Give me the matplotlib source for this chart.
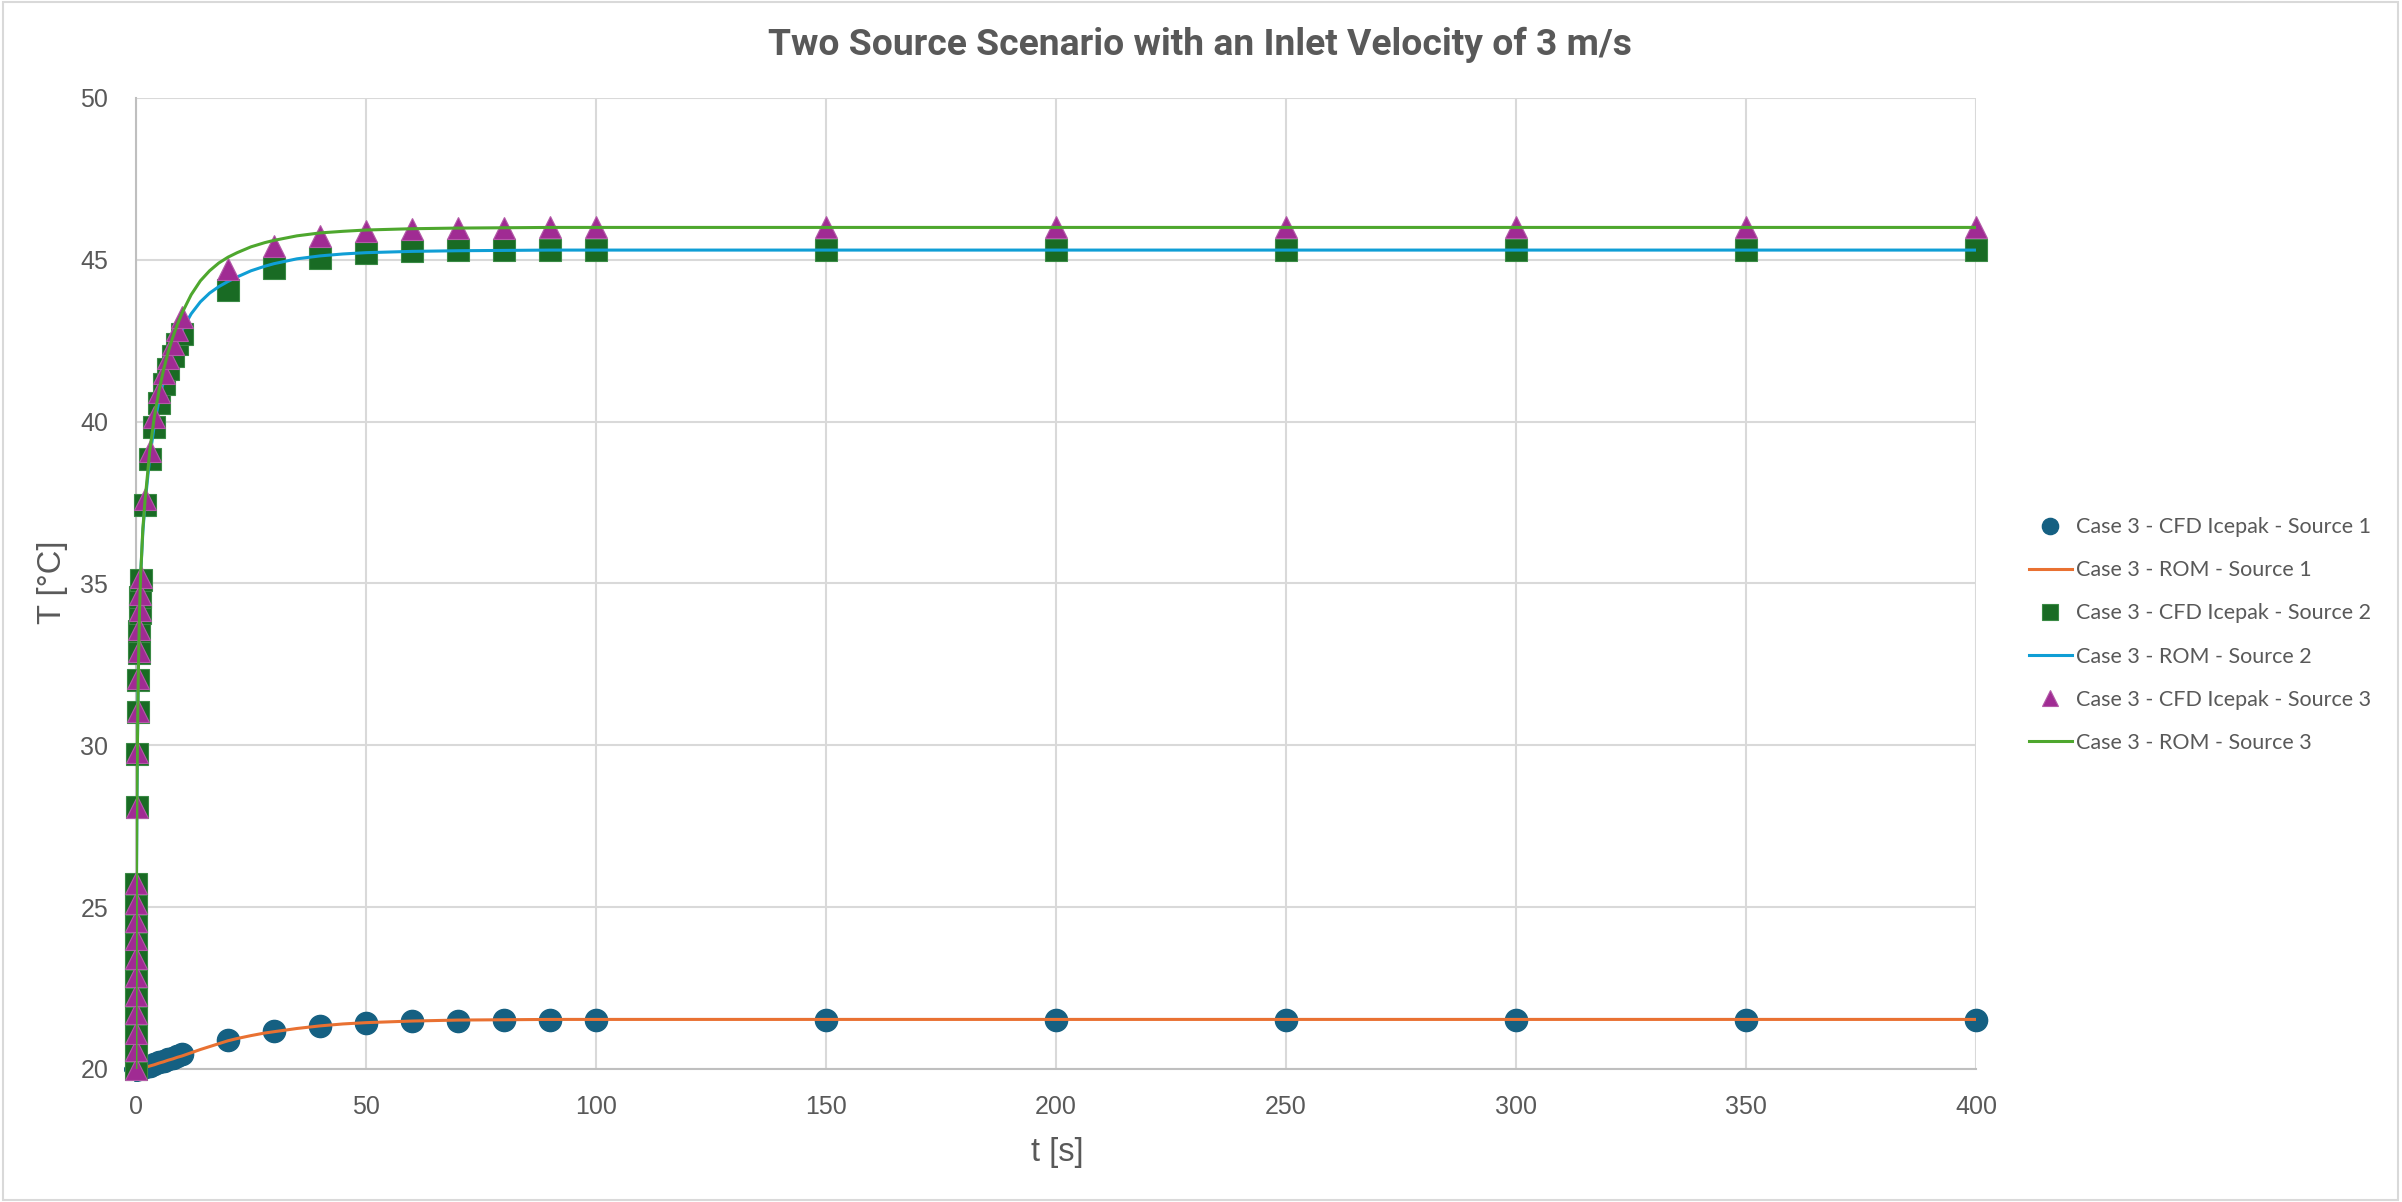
import matplotlib
matplotlib.use("agg")
import matplotlib.pyplot as plt
from matplotlib.patches import Rectangle

# CFD sample times [s]
cfd_t = [0, 0.01, 0.02, 0.03, 0.04, 0.05, 0.06, 0.07, 0.08, 0.09, 0.1,
         0.2, 0.3, 0.4, 0.5, 0.6, 0.7, 0.8, 0.9, 1.0,
         2, 3, 4, 5, 6, 7, 8, 9, 10,
         20, 30, 40, 50, 60, 70, 80, 90, 100,
         150, 200, 250, 300, 350, 400]

cfd_src1 = [20.0, 20.0, 20.0, 20.0, 20.0, 20.0, 20.0, 20.0, 20.0, 20.0, 20.0,
            20.0, 20.0, 20.01, 20.01, 20.01, 20.02, 20.02, 20.02, 20.03,
            20.06, 20.1, 20.15, 20.2, 20.25, 20.3, 20.35, 20.4, 20.45,
            20.9, 21.18, 21.34, 21.43, 21.48, 21.49, 21.52, 21.52, 21.52,
            21.52, 21.52, 21.52, 21.52, 21.52, 21.52]

cfd_src2 = [20.0, 20.55, 21.1, 21.7, 22.25, 22.85, 23.4, 24.0, 24.55, 25.1, 25.7,
            28.08, 29.74, 31.02, 32.03, 32.85, 33.52, 34.08, 34.58, 35.1,
            37.43, 38.85, 39.84, 40.58, 41.15, 41.62, 42.03, 42.39, 42.72,
            44.08, 44.74, 45.05, 45.21, 45.27, 45.29, 45.3, 45.3, 45.3,
            45.3, 45.3, 45.3, 45.3, 45.3, 45.3]

cfd_src3 = [20.0, 20.57, 21.12, 21.72, 22.28, 22.88, 23.43, 24.03, 24.58, 25.13, 25.73,
            28.1, 29.78, 31.07, 32.09, 32.92, 33.6, 34.17, 34.68, 35.2,
            37.62, 39.1, 40.15, 40.92, 41.5, 41.97, 42.4, 42.82, 43.22,
            44.72, 45.42, 45.73, 45.89, 45.95, 45.98, 45.99, 46.0, 46.0,
            46.0, 46.0, 46.0, 46.0, 46.0, 46.0]

# ROM output times [s]
rom_t = [0, 0.05, 0.1, 0.2, 0.3, 0.5, 0.75, 1, 1.5, 2, 3, 4, 5, 6, 7, 8, 9, 10,
         12, 14, 16, 18, 20, 22, 25, 28, 30, 35, 40, 45, 50, 60, 70, 80, 90, 100,
         150, 200, 250, 300, 350, 400]

rom_src1 = [20.0, 20.0, 20.0, 20.0, 20.0, 20.01, 20.01, 20.02, 20.03, 20.05, 20.09,
            20.13, 20.18, 20.22, 20.27, 20.31, 20.36, 20.4,
            20.5, 20.6, 20.69, 20.78, 20.87, 20.94, 21.03, 21.11, 21.15, 21.25, 21.33,
            21.39, 21.43, 21.48, 21.51, 21.52, 21.53, 21.53,
            21.53, 21.53, 21.53, 21.53, 21.53, 21.53]

rom_src2 = [20.0, 22.8, 25.4, 28.2, 29.8, 32.1, 34.0, 35.2, 36.6, 37.5, 38.9,
            39.9, 40.65, 41.25, 41.75, 42.15, 42.5, 42.82,
            43.33, 43.7, 43.97, 44.17, 44.33, 44.47, 44.66, 44.8, 44.88, 45.03, 45.12,
            45.18, 45.22, 45.26, 45.28, 45.29, 45.3, 45.3,
            45.3, 45.3, 45.3, 45.3, 45.3, 45.3]

rom_src3 = [20.0, 22.8, 25.4, 28.2, 29.8, 32.1, 34.0, 35.2, 36.7, 37.6, 39.1,
            40.15, 40.95, 41.6, 42.15, 42.6, 43.0, 43.35,
            43.92, 44.35, 44.66, 44.9, 45.08, 45.22, 45.4, 45.53, 45.6, 45.74, 45.83,
            45.88, 45.92, 45.96, 45.98, 45.99, 46.0, 46.0,
            46.0, 46.0, 46.0, 46.0, 46.0, 46.0]

labels = ["Case 3 - CFD Icepak - Source 1", "Case 3 - ROM - Source 1",
          "Case 3 - CFD Icepak - Source 2", "Case 3 - ROM - Source 2",
          "Case 3 - CFD Icepak - Source 3", "Case 3 - ROM - Source 3"]

gray = "#595959"
tick_font = "Liberation Sans"

fig = plt.figure(figsize=(24.02, 12.02), dpi=100)
ax = fig.add_axes([0.0566, 0.1107, 0.7661, 0.8078])

ms = 16
ax.plot(cfd_t, cfd_src1, ls="none", marker="o", ms=ms, color="#156082",
        mec="#156082", clip_on=False, zorder=3, label=labels[0])
ax.plot(rom_t, rom_src1, color="#E97132", lw=2.2, zorder=4, label=labels[1])
ax.plot(cfd_t, cfd_src2, ls="none", marker="s", ms=ms, color="#196B24",
        mec="#3a8a45", mew=0.8, clip_on=False, zorder=5, label=labels[2])
ax.plot(rom_t, rom_src2, color="#0F9ED5", lw=2.2, zorder=6, label=labels[3])
ax.plot(cfd_t, cfd_src3, ls="none", marker="^", ms=ms, color="#A02B93",
        mec="#b35aa8", mew=0.8, clip_on=False, zorder=7, label=labels[4])
ax.plot(rom_t, rom_src3, color="#4EA72E", lw=2.2, zorder=8, label=labels[5])

ax.set_xlim(0, 400)
ax.set_ylim(20, 50)
ax.set_xticks(range(0, 401, 50))
ax.set_yticks(range(20, 51, 5))
ax.grid(True, color="#d9d9d9", lw=1.5)
ax.set_axisbelow(True)
for s in ["top", "right"]:
    ax.spines[s].set_visible(False)
for s in ["left", "bottom"]:
    ax.spines[s].set_color("#bfbfbf")
    ax.spines[s].set_linewidth(1.5)
ax.tick_params(length=0, labelsize=18, labelcolor=gray)
ax.tick_params(axis="y", pad=20)
ax.tick_params(axis="x", pad=19)
for lab in ax.get_xticklabels() + ax.get_yticklabels():
    lab.set_family(tick_font)

ax.set_xlabel("t [s]", fontsize=23.5, color=gray, family=tick_font)
ax.set_ylabel("T [°C]", fontsize=23.5, color=gray, family=tick_font)
ax.xaxis.set_label_coords(0.5005, -0.070)
ax.yaxis.set_label_coords(-0.037, 0.5015)

fig.text(0.4996, 1 - 45 / 1202, "Two Source Scenario with an Inlet Velocity of 3 m/s",
         ha="center", va="center", fontsize=26.8, weight="bold", color=gray,
         family="Roboto")

leg = ax.legend(loc="center left", bbox_to_anchor=(0.8447, 0.4717),
                bbox_transform=fig.transFigure, frameon=False, borderpad=0,
                borderaxespad=0, handlelength=2.0, handletextpad=0.2,
                labelspacing=1.07, markerscale=0.73,
                prop={"family": "Lato", "size": 15.5})
for t in leg.get_texts():
    t.set_color(gray)

fig.patches.append(Rectangle((0.0012, 0.0015), 0.9972, 0.997, transform=fig.transFigure,
                             fill=False, edgecolor="#d9d9d9", lw=1.5))

fig.savefig("out.png", dpi=100)
plt.close(fig)
